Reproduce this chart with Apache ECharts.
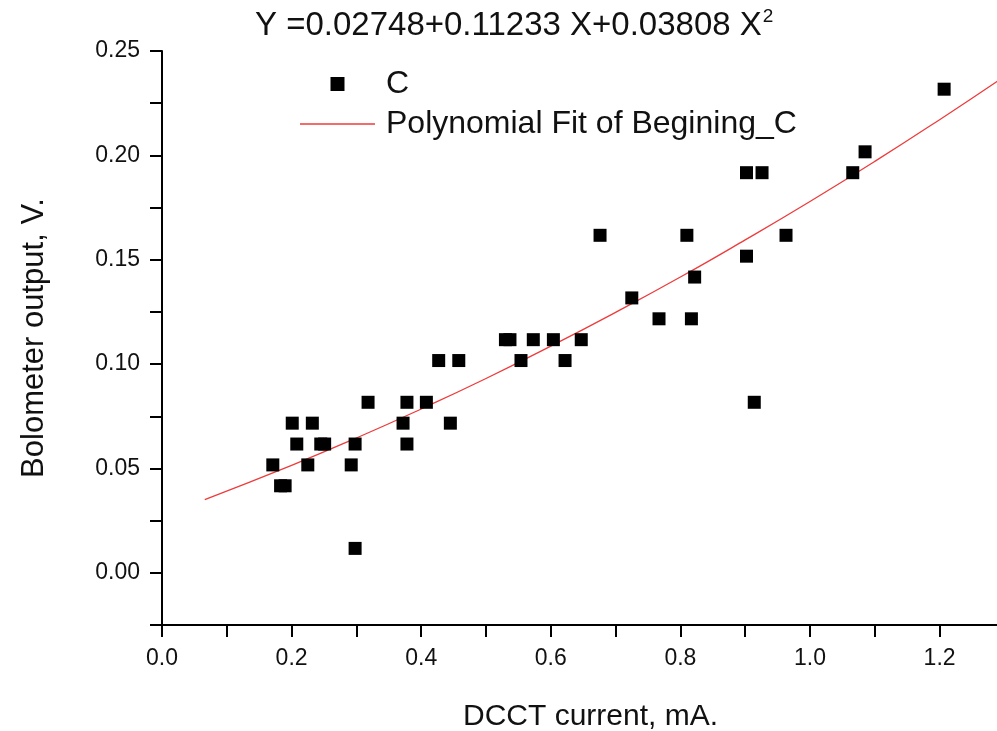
<!DOCTYPE html>
<html>
<head>
<meta charset="utf-8">
<script src="https://cdn.jsdelivr.net/npm/echarts@6/dist/echarts.min.js"></script>
<style>
html,body{margin:0;padding:0;background:#fff;}
#chart{width:997px;height:731px;}
</style>
</head>
<body>
<div id="chart"></div>
<script>
// Measured points "C": DCCT current (mA) and bolometer output (V)
var currentX = [0.171,0.183,0.190,0.201,0.208,0.225,0.232,0.245,0.251,0.292,0.298,0.298,0.318,0.372,0.378,0.378,0.408,0.427,0.445,0.458,0.530,0.537,0.554,0.573,0.604,0.622,0.647,0.676,0.725,0.767,0.810,0.817,0.822,0.902,0.902,0.914,0.926,0.963,1.066,1.085,1.207];
var outputY  = [0.0517,0.0417,0.0417,0.0717,0.0617,0.0517,0.0717,0.0617,0.0617,0.0517,0.0617,0.0117,0.0817,0.0717,0.0817,0.0617,0.0817,0.1017,0.0717,0.1017,0.1117,0.1117,0.1017,0.1117,0.1117,0.1017,0.1117,0.1617,0.1317,0.1217,0.1617,0.1217,0.1417,0.1917,0.1517,0.0817,0.1917,0.1617,0.1917,0.2017,0.2317];
// Polynomial fit curve
var fitX = [0.066,0.2,0.3,0.4,0.5,0.6,0.7,0.8,0.9,1.0,1.1,1.2,1.29];
var fitY = [0.0351,0.0515,0.0646,0.0785,0.0931,0.1086,0.1248,0.1417,0.1595,0.1779,0.1971,0.2171,0.2357];
var xTicks = [0.0,0.2,0.4,0.6,0.8,1.0,1.2];
var yTicks = [0.00,0.05,0.10,0.15,0.20,0.25];
var seriesNames = ['C','Polynomial Fit of Begining_C'];

var scatterData = currentX.map(function(x,i){return [x,outputY[i]];});
var fitData = fitX.map(function(x,i){return [x,fitY[i]];});

var FONT = 'Liberation Sans, Arial, sans-serif';
var RED = '#ee3b3b';
var chart = echarts.init(document.getElementById('chart'));
chart.setOption({
  animation:false,
  backgroundColor:'#fff',
  title:{
    text:'{m|Y =0.02748+0.11233 X+0.03808 X}{s|2}',
    left:250, top:2,
    textStyle:{
      rich:{
        m:{fontFamily:FONT,fontSize:33,fontWeight:'normal',color:'#111'},
        s:{fontFamily:FONT,fontSize:19,fontWeight:'normal',color:'#111',padding:[0,0,18,1]}
      }
    }
  },
  legend:{
    orient:'vertical',
    left:295, top:63,
    itemWidth:75, itemHeight:14, itemGap:8,
    symbolKeepAspect:true,
    textStyle:{fontFamily:FONT,fontSize:32,color:'#111',padding:[0,0,0,6]},
    data:[
      {name:seriesNames[0],icon:'path://M0,0H14V14H0Z',itemStyle:{color:'#000'}},
      {name:seriesNames[1],icon:'path://M0,0H75V1.4H0Z',itemStyle:{color:RED}}
    ]
  },
  grid:{left:162,right:0,top:51,bottom:106,containLabel:false,outerBoundsMode:'none'},
  xAxis:{
    type:'value', min:0, max:1.2886, interval:0.1,
    name:'DCCT current, mA.', nameLocation:'middle', nameGap:77,
    nameTextStyle:{fontFamily:FONT,fontSize:30,color:'#111',padding:[0,0,0,22]},
    axisLine:{onZero:false,lineStyle:{color:'#000',width:2}},
    axisTick:{length:12,lineStyle:{color:'#000',width:2}},
    splitLine:{show:false},
    axisLabel:{fontFamily:FONT,fontSize:23,color:'#111',margin:22,
      showMaxLabel:false,
      formatter:function(v){
        for(var i=0;i<xTicks.length;i++){ if(Math.abs(v-xTicks[i])<1e-6) return xTicks[i].toFixed(1);} return '';
      }}
  },
  yAxis:{
    type:'value', min:-0.025, max:0.25, interval:0.025,
    name:'Bolometer output, V.', nameLocation:'middle', nameGap:112,
    nameTextStyle:{fontFamily:FONT,fontSize:31,color:'#111'},
    axisLine:{onZero:false,lineStyle:{color:'#000',width:2}},
    axisTick:{length:12,lineStyle:{color:'#000',width:2}},
    splitLine:{show:false},
    axisLabel:{fontFamily:FONT,fontSize:23,color:'#111',margin:22,
      formatter:function(v){
        for(var i=0;i<yTicks.length;i++){ if(Math.abs(v-yTicks[i])<1e-6) return yTicks[i].toFixed(2);} return '';
      }}
  },
  series:[
    {name:seriesNames[0],type:'scatter',symbol:'rect',symbolSize:13,
     itemStyle:{color:'#000',opacity:1},data:scatterData,z:3},
    {name:seriesNames[1],type:'line',smooth:true,showSymbol:false,symbol:'none',
     lineStyle:{color:RED,width:1.3},itemStyle:{color:RED},data:fitData,z:2}
  ]
});
</script>
</body>
</html>
